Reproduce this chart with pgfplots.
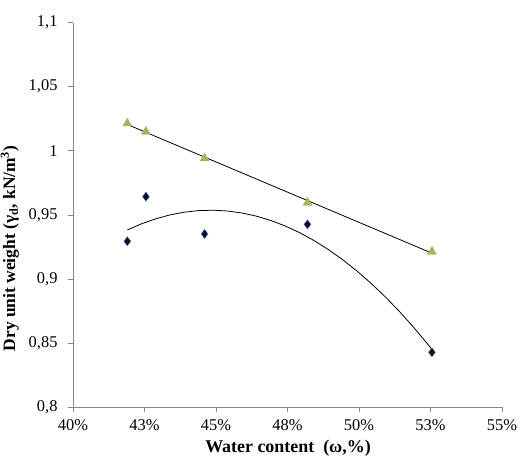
\documentclass[border=0pt]{standalone}
\usepackage{fontspec}
\setmainfont{Liberation Serif}
\usepackage{pgfplots}
\pgfplotsset{compat=1.18}

\definecolor{axisgray}{HTML}{868686}
\definecolor{trigreen}{HTML}{9BBB59}
\definecolor{diamnavy}{HTML}{0A0A28}
\definecolor{diamedge}{HTML}{4F81BD}

\begin{document}
\begin{tikzpicture}
\useasboundingbox (-73bp,-50.7bp) rectangle (453bp,407.3bp);
\begin{axis}[
  at={(0,0)}, anchor=south west,
  scale only axis,
  width=429bp, height=384.6bp,
  xmin=40, xmax=55, ymin=0.8, ymax=1.1,
  axis x line*=bottom, axis y line*=left,
  axis line style={axisgray, line width=0.8pt},
  xtick={40,42.5,45,47.5,50,52.5,55},
  xticklabels={40\%,43\%,45\%,48\%,50\%,53\%,55\%},
  ytick={0.8,0.85,0.9,0.95,1,1.05,1.1},
  /pgf/number format/use comma,
  /pgf/number format/assume math mode=true,
  tick align=outside,
  major tick length=5bp,
  tick style={axisgray, line width=0.8pt},
  ticklabel style={font=\fontsize{16.5}{18}\selectfont, text=black},
  yticklabel style={xshift=-7bp},
  xticklabel style={yshift=-6bp, inner sep=1bp},
  clip=false,
]
% measured points, dry unit weight against water content
\addplot[only marks, mark=triangle*, mark size=5.2bp, mark options={fill=trigreen, draw=trigreen}]
  coordinates {(41.9,1.0215) (42.55,1.015) (44.6,0.9942) (48.2,0.9596) (52.55,0.9214)};
\addplot[only marks, mark=diamond*, mark size=4.6bp, mark options={fill=diamnavy, draw=diamedge, line width=0.4pt}]
  coordinates {(41.9,0.9295) (42.55,0.9643) (44.6,0.9352) (48.2,0.9427) (52.55,0.8429)};
% linear trend of the upper series
\addplot[black, line width=0.8pt] coordinates {(41.9,1.02061) (52.55,0.92023)};
% second-order trend of the lower series
\addplot[black, line width=0.8pt] coordinates {
  (41.9,0.938340) (42.4,0.943174) (42.9,0.947099) (43.4,0.950117) (43.9,0.952229)
  (44.4,0.953433) (44.9,0.953730) (45.4,0.953120) (45.9,0.951604) (46.4,0.949181)
  (46.9,0.945851) (47.4,0.941614) (47.9,0.936471) (48.4,0.930419) (48.9,0.923462)
  (49.4,0.915598) (49.9,0.906827) (50.4,0.897149) (50.9,0.886564) (51.4,0.875072)
  (51.9,0.862673) (52.4,0.849368) (52.55,0.845200)};
\end{axis}
\node[font=\fontsize{18}{20}\selectfont\bfseries, inner sep=0pt] at (215bp,-41bp) {Water content\ \ (ω,\%)};
\node[rotate=90, font=\fontsize{17.5}{20}\selectfont\bfseries] at (-63bp,158.9bp)
  {Dry unit weight (γ\textsubscript{d}, kN/m\textsuperscript{3})};
\end{tikzpicture}
\end{document}
